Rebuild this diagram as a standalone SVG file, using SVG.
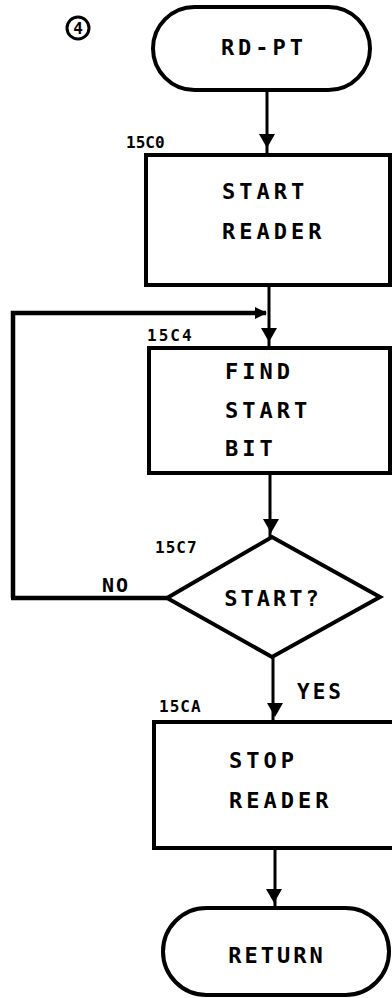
<svg xmlns="http://www.w3.org/2000/svg" width="392" height="998" viewBox="0 0 392 998">
<style>
.shape{fill:#fff;stroke:#000;stroke-width:4}
.conn{fill:none;stroke:#000;stroke-width:3}
.loop{fill:none;stroke:#000;stroke-width:4.5}
.t{font-family:"DejaVu Sans Mono","Liberation Mono",monospace;font-weight:bold;font-size:22px;letter-spacing:4px;fill:#000}
.lbl{font-family:"DejaVu Sans Mono","Liberation Mono",monospace;font-weight:bold;font-size:16px;fill:#000}
</style>
<defs>
<path id="ah" d="M-8,-7 L8,-7 L0,7 Z" fill="#000"/>
<marker id="rt" markerWidth="12" markerHeight="12" refX="11" refY="6" orient="auto" markerUnits="userSpaceOnUse"><path d="M0,0 L12,6 L0,12 Z" fill="#000"/></marker>
</defs>
<rect width="392" height="998" fill="#fff"/>
<g id="page-num">
<circle cx="78" cy="28" r="11" fill="none" stroke="#000" stroke-width="3"/>
<text x="78" y="34" text-anchor="middle" class="lbl" style="font-size:16px">4</text>
</g>
<g id="connectors">
<line class="conn" x1="267" y1="90" x2="267" y2="155"/>
<use href="#ah" x="267" y="141"/>
<line class="conn" x1="269" y1="285" x2="269" y2="348"/>
<path class="loop" d="M13,598 L13,313 L266,313" marker-end="url(#rt)"/>
<use href="#ah" x="269" y="335"/>
<line class="conn" x1="270" y1="473" x2="270" y2="537"/>
<use href="#ah" x="271" y="526"/>
<path class="loop" d="M167,598 L11,598"/>
<line class="conn" x1="273" y1="657" x2="273" y2="722"/>
<use href="#ah" x="275" y="710"/>
<line class="conn" x1="275" y1="848" x2="275" y2="908"/>
<use href="#ah" x="274" y="896"/>
</g>
<g id="rd-pt">
<rect class="shape" x="153" y="7" width="217" height="83" rx="41.5"/>
<text class="t" x="264" y="55" text-anchor="middle">RD-PT</text>
</g>
<g id="start-reader">
<rect class="shape" x="146" y="155" width="244" height="130"/>
<text class="lbl" x="126" y="148" style="letter-spacing:0px">15C0</text>
<text class="t" x="222" y="199">START</text>
<text class="t" x="222" y="239">READER</text>
</g>
<g id="find-start-bit">
<rect class="shape" x="149" y="348" width="241" height="125"/>
<text class="lbl" x="147" y="341" style="letter-spacing:2px">15C4</text>
<text class="t" x="225" y="379">FIND</text>
<text class="t" x="225" y="418">START</text>
<text class="t" x="225" y="456">BIT</text>
</g>
<g id="start-q">
<polygon class="shape" points="167,598 272,537 380,597 272,657"/>
<text class="lbl" x="155" y="553" style="letter-spacing:1px">15C7</text>
<text class="lbl" x="102" y="592" style="font-size:20px;letter-spacing:2px">NO</text>
<text class="t" x="273" y="606" text-anchor="middle" style="letter-spacing:3px">START?</text>
<text class="lbl" x="297" y="699" style="font-size:21px;letter-spacing:3px">YES</text>
</g>
<g id="stop-reader">
<rect class="shape" x="154" y="722" width="240" height="126"/>
<text class="lbl" x="159" y="712" style="letter-spacing:1px">15CA</text>
<text class="t" x="229" y="768">STOP</text>
<text class="t" x="229" y="808">READER</text>
</g>
<g id="return">
<rect class="shape" x="163" y="908" width="226" height="87" rx="43.5"/>
<text class="t" x="277" y="963" text-anchor="middle" style="letter-spacing:3px">RETURN</text>
</g>
</svg>
